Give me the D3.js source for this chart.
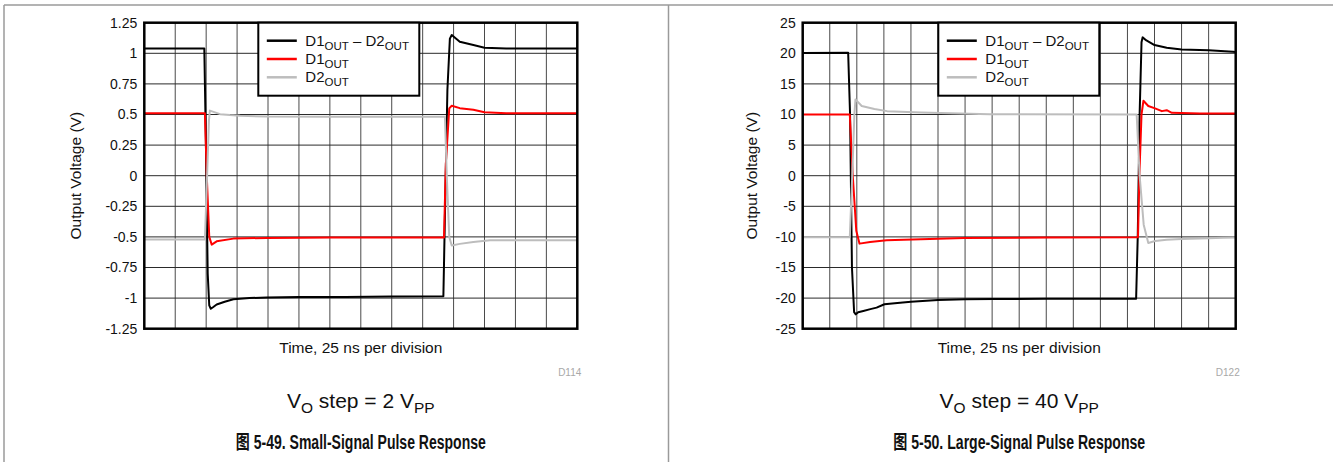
<!DOCTYPE html>
<html>
<head>
<meta charset="utf-8">
<script src="https://cdn.jsdelivr.net/npm/d3@7"></script>
<style>
  body { margin: 0; background: #fff; }
  text { font-family: "Liberation Sans", Arial, "Noto Sans CJK SC", sans-serif; fill: #111; }
</style>
</head>
<body>
<svg id="chart" width="1333" height="462"></svg>
<script>
// ---- data (x in divisions, y in volts) ----
const smallTicks = [1.25, 1, 0.75, 0.5, 0.25, 0, -0.25, -0.5, -0.75, -1, -1.25];
const largeTicks = [25, 20, 15, 10, 5, 0, -5, -10, -15, -20, -25];

const smallDiff = [[0,1.04],[1.94,1.04],[1.99,0.3],[2.05,-0.8],[2.1,-1.06],[2.15,-1.087],[2.22,-1.075],[2.34,-1.052],[2.6,-1.03],[2.88,-1.01],[3.4,-1.0],[3.96,-0.995],[5.0,-0.99],[6.5,-0.99],[8.0,-0.987],[9.67,-0.984],[9.73,-0.2],[9.8,0.7],[9.88,1.12],[9.94,1.15],[10.2,1.095],[10.64,1.068],[11.0,1.046],[11.7,1.04],[14,1.04]];
const smallD1 = [[0,0.511],[1.96,0.511],[2.02,0.0],[2.1,-0.5],[2.18,-0.563],[2.34,-0.536],[2.88,-0.514],[3.96,-0.508],[6.0,-0.505],[9.69,-0.505],[9.75,0.1],[9.86,0.55],[9.94,0.571],[10.2,0.552],[10.64,0.538],[11.0,0.519],[11.7,0.511],[14,0.511]];
const smallD2 = [[0,-0.522],[1.96,-0.522],[2.03,0.0],[2.09,0.45],[2.12,0.532],[2.45,0.503],[2.77,0.495],[3.1,0.49],[3.96,0.483],[6.0,0.482],[9.72,0.482],[9.78,0.0],[9.86,-0.5],[9.94,-0.571],[10.2,-0.557],[10.64,-0.541],[11.18,-0.528],[14,-0.528]];

const largeDiff = [[0,20.05],[1.68,20.1],[1.75,10],[1.82,-15],[1.9,-22.3],[1.96,-22.65],[2.05,-22.3],[2.24,-22.1],[2.5,-21.8],[2.73,-21.56],[3.02,-21.0],[3.5,-20.8],[4.0,-20.6],[5.0,-20.3],[6.0,-20.2],[7.06,-20.15],[9.0,-20.1],[12.32,-20.1],[12.38,-10],[12.45,10],[12.52,21.8],[12.56,22.6],[12.7,22.1],[13.0,21.35],[13.45,20.9],[14.0,20.64],[15.0,20.5],[15.9,20.26],[16,20.2]];
const largeD1 = [[0,10.0],[1.74,10.0],[1.85,0],[1.98,-9],[2.1,-11.1],[2.49,-10.83],[3.1,-10.55],[4.37,-10.4],[5.96,-10.2],[9.1,-10.1],[12.39,-10.05],[12.44,0],[12.52,10],[12.59,12.24],[12.77,11.38],[13.02,11.0],[13.27,10.55],[13.45,10.7],[13.64,10.28],[14.68,10.17],[16,10.17]];
const largeD2 = [[0,-10.05],[1.74,-10.05],[1.83,0],[1.91,10],[1.95,12.47],[2.18,11.38],[2.65,10.9],[3.12,10.55],[4.37,10.33],[6.9,10.05],[12.34,10.0],[12.45,0],[12.6,-8],[12.77,-11.0],[13.02,-10.67],[13.45,-10.45],[14.0,-10.35],[15.0,-10.24],[15.53,-10.13],[16,-10.1]];

const seriesNames = ["D1OUT \u2013 D2OUT", "D1OUT", "D2OUT"];
const seriesColors = ["#000000", "#ff0000", "#bdbdbd"];

const svg = d3.select("#chart");

// panel frame lines (page layout)
svg.append("line").attr("x1", 4).attr("x2", 1333).attr("y1", 5).attr("y2", 5)
  .attr("stroke", "#9a9a9a").attr("stroke-width", 1.5);
svg.append("line").attr("x1", 4).attr("x2", 4).attr("y1", 5).attr("y2", 462)
  .attr("stroke", "#9a9a9a").attr("stroke-width", 1.5);
svg.append("line").attr("x1", 668.5).attr("x2", 668.5).attr("y1", 5).attr("y2", 462)
  .attr("stroke", "#9a9a9a").attr("stroke-width", 1.5);

// subscript helper: "D1OUT" -> D1 + sub OUT
function addRich(t, parts, subSize, shift) {
  parts.forEach(p => {
    const ts = t.append("tspan").text(p.s);
    if (p.sub) ts.attr("font-size", subSize).attr("dy", shift);
    else if (p.after) ts.attr("dy", -shift);
  });
}
function legendParts(name) {
  if (name.indexOf("\u2013") >= 0) {
    return [{s: "D1"}, {s: "OUT", sub: true}, {s: " \u2013 D2", after: true}, {s: "OUT", sub: true}];
  }
  return [{s: name.slice(0, 2)}, {s: "OUT", sub: true}];
}

function drawPanel(cfg) {
  const g = svg.append("g");
  const x = d3.scaleLinear().domain([0, cfg.nx]).range([cfg.left, cfg.left + 433]);
  const y = d3.scaleLinear().domain([cfg.ticks[cfg.ticks.length - 1], cfg.ticks[0]])
    .range([cfg.top + 306, cfg.top]);

  // grid
  g.selectAll(".vg").data(d3.range(1, cfg.nx)).enter().append("line")
    .attr("x1", d => x(d)).attr("x2", d => x(d))
    .attr("y1", y.range()[0]).attr("y2", y.range()[1])
    .attr("stroke", "#4a4a4a").attr("stroke-width", 1);
  g.selectAll(".hg").data(cfg.ticks.slice(1, -1)).enter().append("line")
    .attr("x1", x.range()[0]).attr("x2", x.range()[1])
    .attr("y1", d => y(d)).attr("y2", d => y(d))
    .attr("stroke", "#2a2a2a").attr("stroke-width", 1);

  // y axis labels
  const yAxis = d3.axisLeft(y).tickValues(cfg.ticks).tickSize(0).tickPadding(7)
    .tickFormat(d => String(d));
  const ax = g.append("g").attr("transform", `translate(${cfg.left},0)`).call(yAxis);
  ax.select(".domain").remove();
  ax.selectAll("text").attr("font-size", 14).attr("fill", "#111")
    .attr("font-family", "'Liberation Sans', Arial, sans-serif");

  // traces
  const clipId = "clip" + cfg.id;
  svg.append("clipPath").attr("id", clipId).append("rect")
    .attr("x", x.range()[0]).attr("y", y.range()[1])
    .attr("width", 433).attr("height", 306);
  const line = d3.line().x(d => x(d[0])).y(d => y(d[1]));
  const tr = g.append("g").attr("clip-path", `url(#${clipId})`);
  cfg.series.forEach((s, i) => {
    tr.append("path").datum(s).attr("d", line).attr("fill", "none")
      .attr("stroke", seriesColors[i]).attr("stroke-width", 2)
      .attr("stroke-linejoin", "round");
  });

  // plot border
  g.append("rect").attr("x", x.range()[0]).attr("y", y.range()[1])
    .attr("width", 433).attr("height", 306)
    .attr("fill", "none").attr("stroke", "#000").attr("stroke-width", 2.5);

  // legend
  const lg = g.append("g").attr("transform", `translate(${cfg.legendX},${cfg.top})`);
  lg.append("rect").attr("width", 161).attr("height", 73)
    .attr("fill", "#fff").attr("stroke", "#000").attr("stroke-width", 2);
  seriesNames.forEach((n, i) => {
    const yy = 18 + i * 18.3;
    lg.append("line").attr("x1", 8.5).attr("x2", 38.5).attr("y1", yy).attr("y2", yy)
      .attr("stroke", seriesColors[i]).attr("stroke-width", 2.5);
    const t = lg.append("text").attr("x", 47).attr("y", yy + 5).attr("font-size", 15);
    addRich(t, legendParts(n), 11.5, 4);
  });

  // axis titles
  const cx = (x.range()[0] + x.range()[1]) / 2;
  g.append("text").attr("transform", `translate(${cfg.left - cfg.ylabOff},${cfg.top + 153}) rotate(-90)`)
    .attr("text-anchor", "middle").attr("font-size", 15.5).text("Output Voltage (V)");
  g.append("text").attr("x", cx).attr("y", 352.5).attr("text-anchor", "middle")
    .attr("font-size", 15.5).text("Time, 25 ns per division");
  g.append("text").attr("x", x.range()[1] + 4).attr("y", 376).attr("text-anchor", "end")
    .attr("font-size", 10).style("fill", "#a8a8a8").text(cfg.code);

  // caption (condensed face in the original, so squeeze to its width)
  const vo = g.append("text").attr("x", cx).attr("y", 408).attr("text-anchor", "middle")
    .attr("font-size", 21);
  addRich(vo, [{s: "V"}, {s: "O", sub: true}, {s: " step = " + cfg.step + " V", after: true}, {s: "PP", sub: true}], 15.5, 5);
  g.append("text").attr("x", cx).attr("y", 448.5).attr("text-anchor", "middle")
    .attr("font-size", 19.5).attr("font-weight", "bold")
    .attr("textLength", cfg.titleW).attr("lengthAdjust", "spacingAndGlyphs")
    .text(cfg.title);
}

drawPanel({id: "a", left: 144.3, top: 22.7, nx: 14, ticks: smallTicks, legendX: 258.3,
  series: [smallDiff, smallD1, smallD2], ylabOff: 63, code: "D114", step: "2",
  title: "\u56fe 5-49. Small-Signal Pulse Response", titleW: 250});
drawPanel({id: "b", left: 802.7, top: 22.7, nx: 16, ticks: largeTicks, legendX: 938.3,
  series: [largeDiff, largeD1, largeD2], ylabOff: 46, code: "D122", step: "40",
  title: "\u56fe 5-50. Large-Signal Pulse Response", titleW: 252});
</script>
</body>
</html>
